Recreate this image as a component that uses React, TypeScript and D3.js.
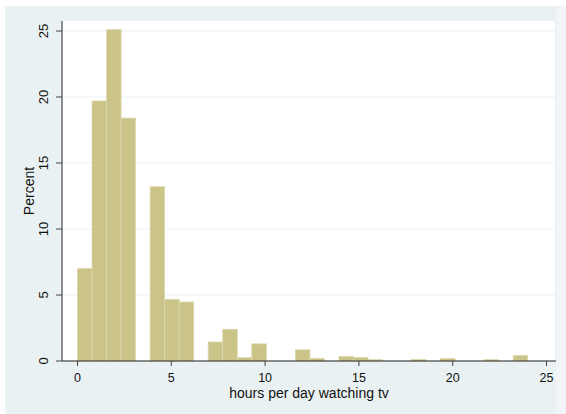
import React from "react";
import * as d3 from "d3";

const hours = [0, 1, 2, 3, 4, 5, 6, 7, 8, 9, 10, 12, 13, 14, 15, 16, 18, 20, 22, 24];
const percent = [7.0, 19.7, 25.1, 18.4, 13.2, 4.67, 4.47, 1.44, 2.4, 0.25, 1.3, 0.85, 0.2, 0.35, 0.27, 0.1, 0.12, 0.2, 0.1, 0.42];
const binCount = 31;
const maxHours = 24;
const xTicks = [0, 5, 10, 15, 20, 25];
const yTicks = [0, 5, 10, 15, 20, 25];

const W = 566;
const H = 414;
const plot = { left: 62, right: 556, top: 21, bottom: 361 };

export default function App() {
  const x = d3.scaleLinear().domain([0, 25]).range([77.5, 546.5]);
  const y = d3.scaleLinear().domain([0, 25]).range([361, 31]);
  const bw = maxHours / binCount;
  const bars = hours.map((h, i) => {
    const b = Math.min(Math.floor(h / bw), binCount - 1);
    return { x0: b * bw, x1: (b + 1) * bw, v: percent[i] };
  });
  const font = "'Liberation Sans', Arial, Helvetica, sans-serif";
  return (
    <div style={{ position: "absolute", left: 0, top: 0 }}>
      <svg width={W} height={H} style={{ display: "block" }}>
        <rect x={0} y={0} width={W} height={H} fill="#ffffff" />
        <rect x={5} y={6} width={551} height={H - 6} fill="#eaf1f3" />
        <rect x={556} y={6} width={10} height={H - 6} fill="#f1f5f7" />
        <rect x={plot.left} y={plot.top} width={plot.right - plot.left} height={plot.bottom - plot.top} fill="#ffffff" />
        <line x1={plot.right - 0.5} x2={plot.right - 0.5} y1={plot.top} y2={plot.bottom} stroke="#e6eef0" />
        {yTicks.map((t) => (
          <line key={"g" + t} x1={plot.left} x2={plot.right} y1={y(t)} y2={y(t)} stroke="#eaf1f3" strokeWidth={1} />
        ))}
        {bars.map((d, i) => (
          <rect
            key={i}
            x={x(d.x0)}
            y={y(d.v)}
            width={x(d.x1) - x(d.x0)}
            height={y(0) - y(d.v)}
            fill="#cbc488"
            stroke="#ddd8ab"
            strokeWidth={0.8}
          />
        ))}
        <line x1={plot.left} x2={plot.left} y1={plot.top} y2={plot.bottom} stroke="#222" strokeWidth={1} />
        <line x1={plot.left} x2={plot.right} y1={plot.bottom} y2={plot.bottom} stroke="#222" strokeWidth={1} />
        {yTicks.map((t) => (
          <g key={"y" + t}>
            <line x1={plot.left - 6} x2={plot.left} y1={y(t)} y2={y(t)} stroke="#444" />
            <text
              transform={`translate(${48},${y(t)}) rotate(-90)`}
              textAnchor="middle"
              fontFamily={font}
              fontSize={13}
              fill="#111"
            >
              {t}
            </text>
          </g>
        ))}
        {xTicks.map((t) => (
          <g key={"x" + t}>
            <line x1={x(t)} x2={x(t)} y1={plot.bottom} y2={plot.bottom + 5} stroke="#444" />
            <text x={x(t)} y={381.5} textAnchor="middle" fontFamily={font} fontSize={12.5} fill="#111">
              {t}
            </text>
          </g>
        ))}
        <text
          transform={`translate(${34},${191}) rotate(-90)`}
          textAnchor="middle"
          fontFamily={font}
          fontSize={14}
          fill="#111"
        >
          Percent
        </text>
        <text x={(plot.left + plot.right) / 2} y={398} textAnchor="middle" fontFamily={font} fontSize={14} fill="#111">
          hours per day watching tv
        </text>
      </svg>
    </div>
  );
}
